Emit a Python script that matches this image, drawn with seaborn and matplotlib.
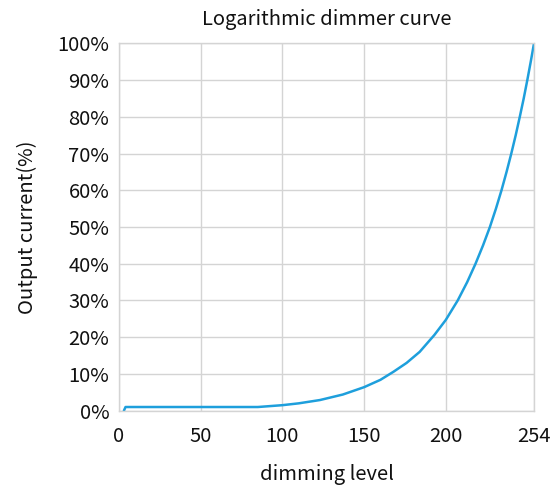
import pandas as pd
import matplotlib.pyplot as plt
import seaborn as sns

# values
level = [3, 4, 20, 40, 60, 85, 100, 110, 123, 137, 150, 160, 168, 176, 184,
         193, 200, 207.3, 213.1, 218.2, 222.8, 227, 230.7, 234.1, 237.2, 240.1,
         242.8, 245.3, 247.7, 249.9, 252.0, 254]
current = [0, 1.0, 1.0, 1.0, 1.0, 1.0, 1.5, 2.0, 2.9, 4.4, 6.4, 8.4, 10.6,
           13.0, 16.0, 20.6, 24.7, 30.0, 35.0, 40.0, 45.0, 50.0, 55.0, 60.0,
           65.0, 70.0, 75.0, 80.0, 85.0, 90.0, 95.0, 100.0]
xticks = [0, 50, 100, 150, 200, 254]
yticks = list(range(0, 101, 10))

df = pd.DataFrame({"level": level, "current": current})

sns.set_style("whitegrid")
plt.rcParams["font.family"] = ["Noto Sans CJK SC", "DejaVu Sans"]

fig = plt.figure(figsize=(5.6, 4.87), dpi=100)
ax = fig.add_axes([0.2125, 0.1567, 0.7411, 0.7544])

sns.lineplot(data=df, x="level", y="current", ax=ax, color="#1E9FDC", linewidth=1.8)

ax.set_xlim(0, 254)
ax.set_ylim(0, 100)
ax.set_xticks(xticks)
ax.set_xticklabels([str(t) for t in xticks])
ax.set_yticks(yticks)
ax.set_yticklabels([f"{t}%" for t in yticks])
ax.tick_params(axis="both", labelsize=14.5, length=0, colors="#111111")
ax.tick_params(axis="x", pad=11)
ax.tick_params(axis="y", pad=7)

ax.grid(True, color="#D4D4D4", linewidth=1.0)
for s in ax.spines.values():
    s.set_color("#D4D4D4")
    s.set_linewidth(1.0)

ax.set_title("Logarithmic dimmer curve", fontsize=14.5, pad=13, color="#111111")
ax.set_xlabel("dimming level", fontsize=14.5, labelpad=12, color="#111111")
ax.set_ylabel("Output current(%)", fontsize=14.5, labelpad=14, color="#111111")

fig.savefig("out.png", dpi=100)
